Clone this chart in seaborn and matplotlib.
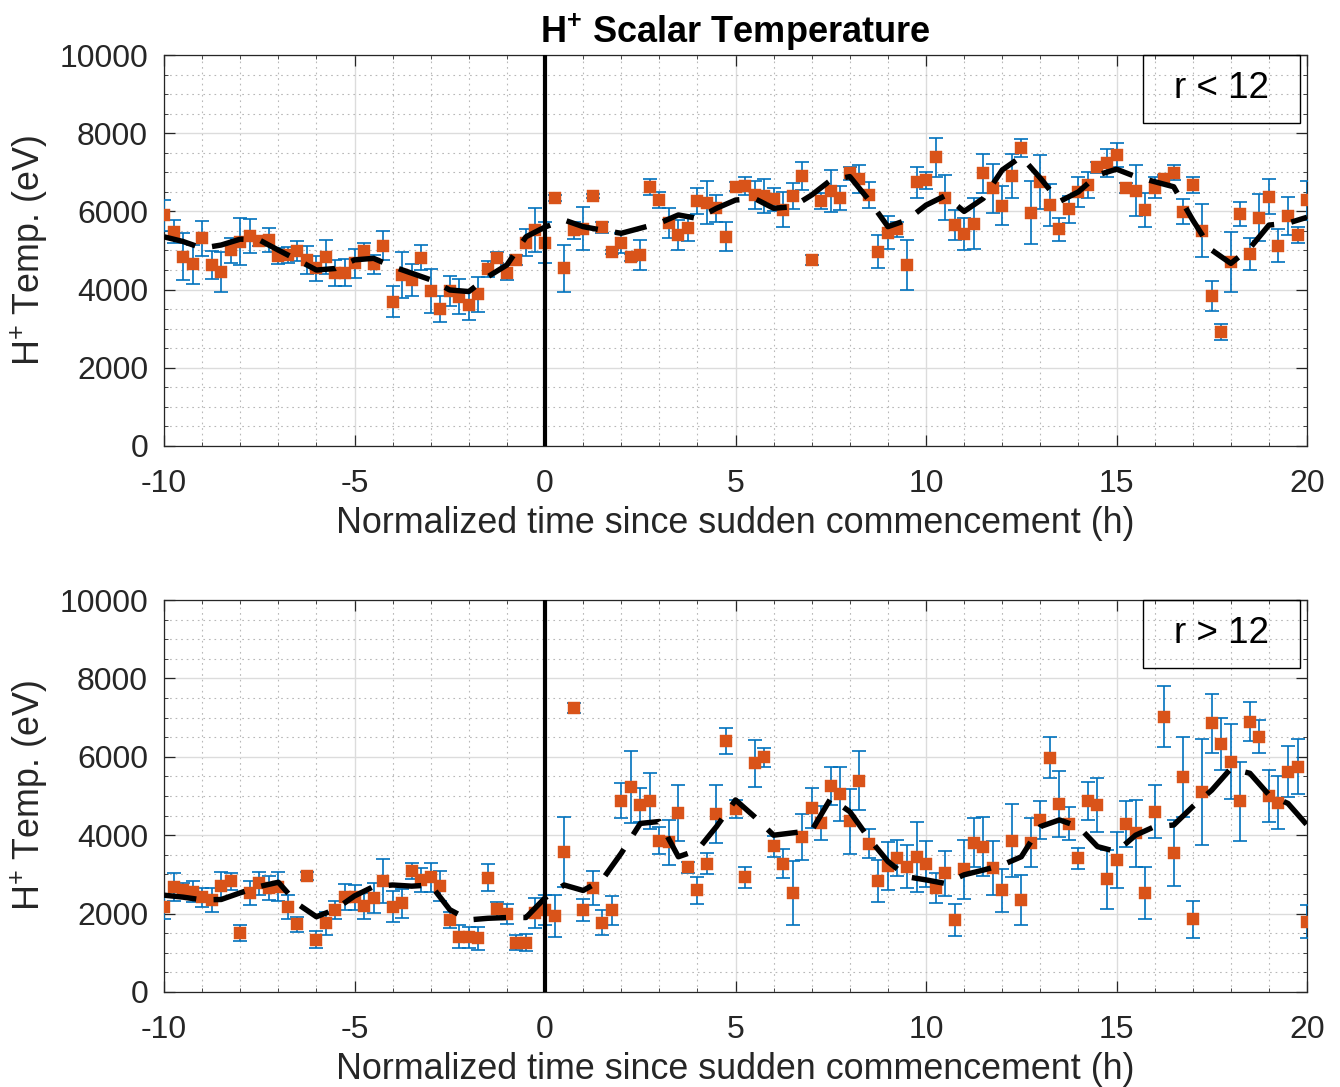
import matplotlib
matplotlib.use("Agg")
import matplotlib.pyplot as plt
import seaborn as sns
import pandas as pd
from matplotlib.ticker import MultipleLocator
from matplotlib.patches import Rectangle

# ---------------- data ----------------
TIME_H = [
    -10.0, -9.75, -9.5, -9.25, -9.0, -8.75, -8.5, -8.25, -8.0, -7.75,
    -7.5, -7.25, -7.0, -6.75, -6.5, -6.25, -6.0, -5.75, -5.5, -5.25,
    -5.0, -4.75, -4.5, -4.25, -4.0, -3.75, -3.5, -3.25, -3.0, -2.75,
    -2.5, -2.25, -2.0, -1.75, -1.5, -1.25, -1.0, -0.75, -0.5, -0.25,
    0.0,
    0.25, 0.5, 0.75, 1.0, 1.25, 1.5, 1.75, 2.0, 2.25, 2.5,
    2.75, 3.0, 3.25, 3.5, 3.75, 4.0, 4.25, 4.5, 4.75, 5.0,
    5.25, 5.5, 5.75, 6.0, 6.25, 6.5, 6.75, 7.0, 7.25, 7.5,
    7.75, 8.0, 8.25, 8.5, 8.75, 9.0, 9.25, 9.5, 9.75, 10.0,
    10.25, 10.5, 10.75, 11.0, 11.25, 11.5, 11.75, 12.0, 12.25, 12.5,
    12.75, 13.0, 13.25, 13.5, 13.75, 14.0, 14.25, 14.5, 14.75, 15.0,
    15.25, 15.5, 15.75, 16.0, 16.25, 16.5, 16.75, 17.0, 17.25, 17.5,
    17.75, 18.0, 18.25, 18.5, 18.75, 19.0, 19.25, 19.5, 19.75, 20.0,
]

TEMP_INNER = [
    5900, 5480, 4840, 4650, 5310, 4630, 4460, 5010, 5230, 5370,
    5240, 5270, 4860, 4890, 4990, 4760, 4540, 4840, 4420, 4430,
    4670, 4990, 4650, 5120, 3690, 4370, 4250, 4820, 3960, 3500,
    3960, 3820, 3610, 3880, 4520, 4820, 4430, 4760, 5200, 5520,
    5200,
    6350, 4540, 5520, 5560, 6390, 5590, 4950, 5200, 4830, 4880,
    6620, 6290, 5710, 5400, 5580, 6270, 6220, 6080, 5350, 6630,
    6660, 6420, 6390, 6310, 6040, 6390, 6910, 4760, 6270, 6520,
    6340, 6970, 6820, 6420, 4970, 5460, 5540, 4630, 6740, 6800,
    7380, 6350, 5650, 5420, 5680, 6970, 6590, 6140, 6900, 7610,
    5970, 6760, 6160, 5540, 6050, 6500, 6680, 7130, 7230, 7440,
    6590, 6530, 6040, 6610, 6820, 6990, 5990, 6680, 5510, 3840,
    2910, 4710, 5930, 4910, 5840, 6380, 5120, 5880, 5400, 6280,
]

ERR_INNER = [
    400, 300, 600, 500, 450, 350, 510, 320, 600, 430,
    130, 300, 210, 210, 250, 360, 330, 430, 340, 340,
    370, 210, 240, 370, 390, 580, 410, 330, 560, 340,
    390, 450, 390, 450, 210, 130, 190, 130, 340, 560,
    530,
    80, 590, 220, 540, 50, 130, 50, 255, 90, 390,
    210, 200, 380, 375, 340, 340, 545, 340, 375, 110,
    230, 360, 430, 300, 450, 330, 360, 130, 200, 545,
    315, 160, 360, 330, 430, 430, 200, 640, 385, 220,
    500, 570, 385, 420, 650, 490, 630, 500, 570, 230,
    810, 690, 545, 285, 340, 375, 340, 140, 360, 300,
    130, 650, 435, 280, 110, 190, 320, 210, 670, 390,
    210, 770, 315, 410, 600, 450, 420, 490, 200, 510,
]

TEMP_OUTER = [
    2160, 2670, 2600, 2560, 2420, 2350, 2710, 2820, 1510, 2530,
    2770, 2650, 2690, 2160, 1730, 2960, 1330, 1750, 2090, 2420,
    2420, 2190, 2390, 2840, 2180, 2260, 3090, 2860, 2930, 2700,
    1840, 1410, 1400, 1370, 2920, 2110, 1990, 1260, 1260, 2020,
    2100,
    1940, 3570, 7240, 2090, 2650, 1770, 2080, 4880, 5240, 4770,
    4880, 3860, 3820, 4560, 3180, 2590, 3270, 4540, 6410, 4660,
    2930, 5830, 5990, 3720, 3270, 2530, 3960, 4690, 4320, 5260,
    5050, 4350, 5390, 3780, 2840, 3210, 3410, 3200, 3450, 3270,
    2650, 3030, 1840, 3130, 3810, 3710, 3160, 2590, 3860, 2350,
    3810, 4390, 5980, 4800, 4290, 3410, 4880, 4770, 2880, 3370,
    4290, 4050, 2520, 4600, 7020, 3540, 5490, 1850, 5110, 6850,
    6330, 5880, 4860, 6900, 6510, 5000, 4830, 5620, 5750, 1790,
]

ERR_OUTER = [
    300, 360, 190, 270, 240, 310, 340, 210, 210, 310,
    300, 310, 370, 310, 190, 90, 220, 300, 240, 330,
    320, 330, 380, 560, 390, 380, 210, 300, 370, 390,
    210, 300, 270, 300, 340, 190, 250, 190, 210, 380,
    380,
    540, 890, 130, 270, 440, 310, 360, 440, 920, 430,
    710, 340, 570, 710, 140, 340, 270, 740, 330, 230,
    270, 600, 240, 270, 370, 810, 580, 510, 430, 490,
    690, 840, 750, 370, 540, 620, 460, 550, 890, 580,
    380, 570, 400, 750, 620, 750, 680, 550, 930, 640,
    620, 480, 530, 850, 420, 270, 490, 700, 750, 720,
    580, 850, 660, 680, 780, 840, 1020, 480, 1350, 760,
    670, 950, 1000, 500, 425, 670, 680, 655, 710, 425,
]

CURVE_TIME_H = [
    -10.0, -9.5, -9.0, -8.5, -8.0, -7.5, -7.0, -6.5, -6.0, -5.5,
    -5.0, -4.5, -4.0, -3.5, -3.0, -2.5, -2.0, -1.5, -1.0, -0.5,
    0.0, 0.5, 1.0, 1.5, 2.0, 2.5, 3.0, 3.5, 4.0, 4.5,
    5.0, 5.5, 6.0, 6.5, 7.0, 7.5, 8.0, 8.5, 9.0, 9.5,
    10.0, 10.5, 11.0, 11.5, 12.0, 12.5, 13.0, 13.5, 14.0, 14.5,
    15.0, 15.5, 16.0, 16.5, 17.0, 17.5, 18.0, 18.5, 19.0, 19.5,
    20.0,
]

CURVE_INNER = [
    5350, 5230, 5060, 5140, 5290, 5270, 5010, 4760, 4500, 4540,
    4760, 4800, 4590, 4420, 4250, 3990, 3950, 4330, 4630, 5350,
    5600, 5780, 5610, 5520, 5440, 5570, 5700, 5910, 5820, 6080,
    6290, 6330, 6080, 6120, 6420, 6800, 6890, 6290, 5610, 5780,
    6160, 6400, 6000, 6330, 7060, 7400, 6850, 6250, 6500, 6930,
    7080, 6890, 6760, 6630, 5780, 5010, 4670, 5060, 5650, 5700,
    5850,
]

CURVE_OUTER = [
    2470, 2420, 2350, 2360, 2530, 2690, 2800, 2250, 1920, 2110,
    2450, 2690, 2730, 2700, 2730, 2100, 1840, 1880, 1900, 1900,
    2400, 2730, 2590, 2860, 3540, 4300, 4350, 3450, 3620, 4220,
    4900, 4470, 4000, 4060, 4120, 4940, 4600, 3920, 3330, 2940,
    2860, 2770, 2990, 3110, 3240, 3450, 4220, 4390, 4220, 3710,
    3580, 4000, 4220, 4260, 4730, 5150, 5700, 5580, 5030, 4810,
    4260,
]

PANEL_LABELS = ["r < 12", "r > 12"]
XTICKS = [-10, -5, 0, 5, 10, 15, 20]
YTICKS = [0, 2000, 4000, 6000, 8000, 10000]
TITLE = r"$\mathbf{H^{+}}$ Scalar Temperature"
YLABEL = r"H$^{+}$ Temp. (eV)"
XLABEL = "Normalized time since sudden commencement (h)"

# ---------------- style ----------------
sns.set_theme(style="ticks")
plt.rcParams["font.family"] = ["Liberation Sans", "DejaVu Sans"]
plt.rcParams["mathtext.fontset"] = "custom"
plt.rcParams["mathtext.rm"] = "Liberation Sans"
plt.rcParams["mathtext.it"] = "Liberation Sans:italic"
plt.rcParams["mathtext.bf"] = "Liberation Sans:bold"
plt.rcParams["axes.unicode_minus"] = False

ORANGE = "#D95319"
BLUE = "#0072BD"
AXCOL = "#262626"
TICK_FS = 23
LABEL_FS = 25.8

fig = plt.figure(figsize=(13.4, 10.87), dpi=100)
ax_top = fig.add_axes([0.1224, 0.5897, 0.853, 0.3597])
ax_bot = fig.add_axes([0.1224, 0.0874, 0.853, 0.3606])

pts_top = pd.DataFrame({"t": TIME_H, "T": TEMP_INNER, "e": ERR_INNER})
pts_bot = pd.DataFrame({"t": TIME_H, "T": TEMP_OUTER, "e": ERR_OUTER})
cur_top = pd.DataFrame({"t": CURVE_TIME_H, "T": CURVE_INNER})
cur_bot = pd.DataFrame({"t": CURVE_TIME_H, "T": CURVE_OUTER})


def draw_panel(ax, pts, cur, label):
    ax.set_xlim(-10, 20)
    ax.set_ylim(0, 10000)
    ax.set_xticks(XTICKS)
    ax.set_yticks(YTICKS)
    ax.xaxis.set_minor_locator(MultipleLocator(1))
    ax.yaxis.set_minor_locator(MultipleLocator(500))
    ax.grid(True, which="major", color="#DCDCDC", lw=1.0)
    ax.grid(True, which="minor", color="#B8B8B8", lw=0.8,
            linestyle=(0, (1.5, 3.5)))
    ax.set_axisbelow(True)

    ax.errorbar(pts["t"], pts["T"], yerr=pts["e"], fmt="none",
                ecolor=BLUE, elinewidth=1.2, capsize=4.7, capthick=1.2,
                zorder=3)
    sns.scatterplot(data=pts, x="t", y="T", marker="s", s=68,
                    color=ORANGE, edgecolor=ORANGE, linewidth=0.3,
                    ax=ax, zorder=4, legend=False)
    ax.axvline(0, color="black", lw=3.0, zorder=5)
    sns.lineplot(data=cur, x="t", y="T", color="black", lw=3.9,
                 ax=ax, zorder=6, legend=False)
    line = ax.get_lines()[-1]
    line.set_dashes((6, 3.2))
    line.set_dash_capstyle("butt")

    for s in ax.spines.values():
        s.set_visible(True)
        s.set_color(AXCOL)
        s.set_linewidth(0.9)
    ax.tick_params(which="both", direction="in", top=True, right=True,
                   colors=AXCOL, labelcolor=AXCOL)
    ax.tick_params(axis="x", which="major", length=8, width=0.9,
                   labelsize=TICK_FS, pad=16.5)
    ax.tick_params(axis="y", which="major", length=8, width=0.9,
                   labelsize=TICK_FS, pad=11.5)
    ax.tick_params(which="minor", length=3, width=0.6)

    ax.set_xlabel(XLABEL, fontsize=LABEL_FS, color=AXCOL)
    ax.set_ylabel(YLABEL, fontsize=LABEL_FS, color=AXCOL)
    ax.xaxis.set_label_coords(0.5, -0.153)
    ax.yaxis.set_label_coords(-0.0995, 0.5)

    ax.add_patch(Rectangle((0.8565, 0.826), 0.1374, 0.174,
                           transform=ax.transAxes, fill=False,
                           edgecolor="black", lw=1.0, zorder=7,
                           clip_on=False))
    ax.text(0.9252, 0.914, label, transform=ax.transAxes,
            ha="center", va="center", fontsize=26.5, color="black",
            zorder=8)


draw_panel(ax_top, pts_top, cur_top, PANEL_LABELS[0])
draw_panel(ax_bot, pts_bot, cur_bot, PANEL_LABELS[1])
ax_top.set_title(TITLE, fontsize=26, fontweight="bold", pad=9,
                 color="black")

fig.savefig("out.png", dpi=100)
